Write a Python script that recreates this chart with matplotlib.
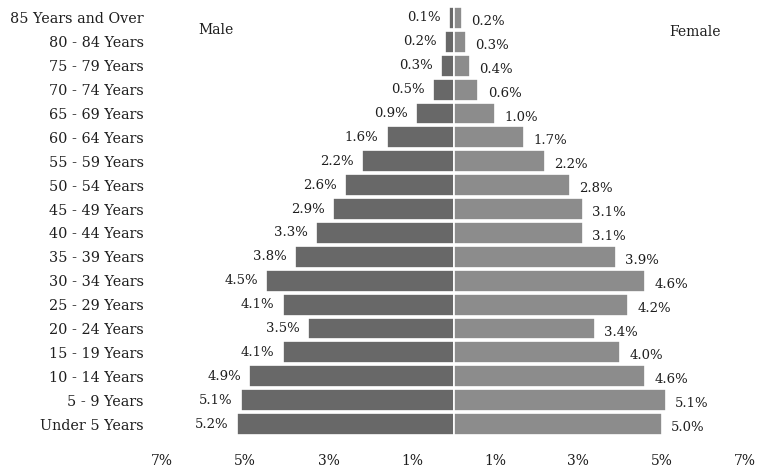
import matplotlib
matplotlib.use('Agg')
import matplotlib.pyplot as plt
import numpy as np

# Age groups, youngest first (bottom of the pyramid)
age_groups = ['Under 5 Years', '5 - 9 Years', '10 - 14 Years', '15 - 19 Years',
              '20 - 24 Years', '25 - 29 Years', '30 - 34 Years', '35 - 39 Years',
              '40 - 44 Years', '45 - 49 Years', '50 - 54 Years', '55 - 59 Years',
              '60 - 64 Years', '65 - 69 Years', '70 - 74 Years', '75 - 79 Years',
              '80 - 84 Years', '85 Years and Over']
male = [5.2, 5.1, 4.9, 4.1, 3.5, 4.1, 4.5, 3.8, 3.3, 2.9, 2.6, 2.2,
        1.6, 0.9, 0.5, 0.3, 0.2, 0.1]     # percent of population
female = [5.0, 5.1, 4.6, 4.0, 3.4, 4.2, 4.6, 3.9, 3.1, 3.1, 2.8, 2.2,
          1.7, 1.0, 0.6, 0.4, 0.3, 0.2]
tick_vals = [-7, -5, -3, -1, 1, 3, 5, 7]
tick_labels = ['7%', '5%', '3%', '1%', '1%', '3%', '5%', '7%']

plt.rcParams['font.family'] = ['DejaVu Serif']
txt = '#1e1e1e'

fig = plt.figure(figsize=(7.6, 4.71), dpi=100)
ax = fig.add_axes([162 / 760, 1 - 436 / 471, 583 / 760, 430 / 471])

y = np.arange(len(age_groups))
male_neg = [-v for v in male]
ax.barh(y, male_neg, height=0.92, color='#686868', edgecolor='white', linewidth=1.2)
ax.barh(y, female, height=0.92, color='#8c8c8c', edgecolor='white', linewidth=1.2)

# Value labels beside each bar
for yi, m, f in zip(y, male, female):
    ax.text(-m - 0.2, yi, '%.1f%%' % m, ha='right', va='center', fontsize=9.5,
            color=txt)
    ax.text(f + 0.22, yi - 0.15, '%.1f%%' % f, ha='left', va='center', fontsize=9.5,
            color=txt)

ax.set_xlim(-7, 7)
ax.set_ylim(-0.5, len(age_groups) - 0.5)
ax.set_xticks(tick_vals)
ax.set_xticklabels(tick_labels)
ax.set_yticks(y)
ax.set_yticklabels(age_groups)
ax.tick_params(axis='both', length=0, labelsize=10, colors=txt)
ax.tick_params(axis='y', pad=13, labelsize=10.4)
ax.tick_params(axis='x', pad=13)
for s in ax.spines.values():
    s.set_visible(False)

fig.text(216 / 760, 1 - 30 / 471, 'Male', ha='center', va='center', fontsize=10,
         color=txt)
fig.text(695 / 760, 1 - 32 / 471, 'Female', ha='center', va='center', fontsize=10,
         color=txt)

fig.savefig('out.png', dpi=100, facecolor='white')
